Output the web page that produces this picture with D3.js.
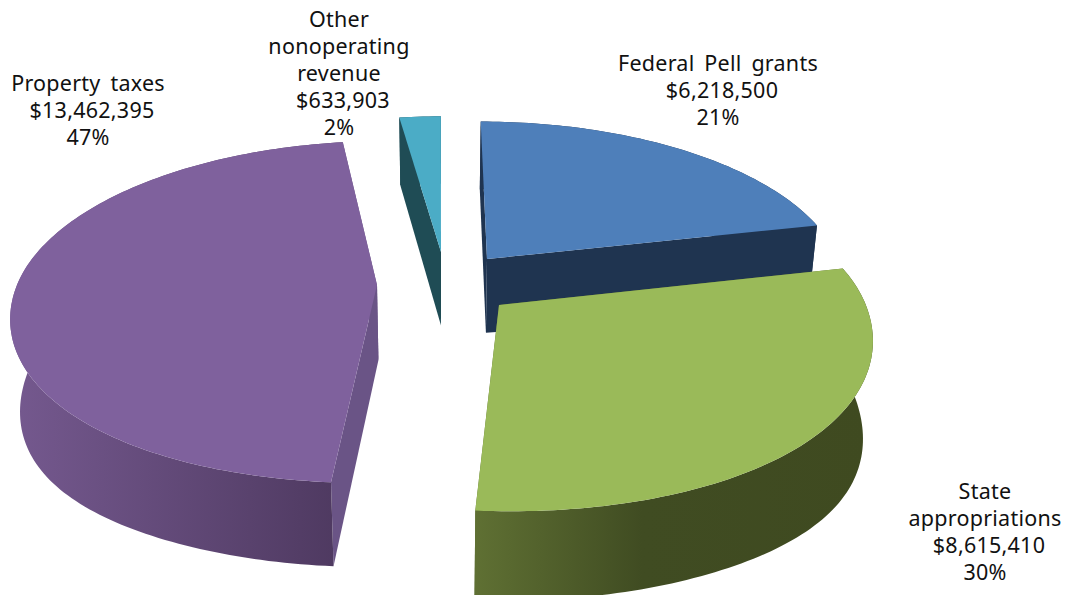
<!DOCTYPE html>
<html>
<head>
<meta charset="utf-8">
<style>
  html, body { margin: 0; padding: 0; background: #fff; overflow: hidden; }
  text { font-family: "Noto Sans", "DejaVu Sans", sans-serif; font-size: 21.5px; word-spacing: 4px; letter-spacing: 0.25px; fill: #111; }
</style>
<script src="https://cdn.jsdelivr.net/npm/d3@7/dist/d3.min.js"></script>
</head>
<body>
<svg id="chart" width="1067" height="595"></svg>
<script>
// Revenue sources, clockwise from twelve o'clock
const categories = ["Federal Pell grants", "State appropriations", "Property taxes", "Other nonoperating revenue"];
const revenue = [6218500, 8615410, 13462395, 633903];
const labelLines = [["Federal Pell grants"], ["State", "appropriations"], ["Property taxes"], ["Other", "nonoperating", "revenue"]];

// Styling per slice
const topColors = ["#4e7fba", "#9aba59", "#7f619d", "#4bacc6"];
const edgeColors = ["#1f3450", "#5c6c32", "#6a5486", "#1f4c55"];
const wallStops = [
  [[0, "#1f3450"], [1, "#1f3450"]],
  [[0, "#5f7033"], [0.42, "#404c22"], [1, "#3f4a20"]],
  [[0, "#75598f"], [1, "#4e3960"]],
  [[0, "#1f4c55"], [1, "#1f4c55"]]
];

// Layout: pixel position of each slice's hub, extra wall height, and each label's centre line
const hubs = [[487, 259], [499, 305], [377, 285], [441, 252]];
const wallExtra = [0, 4, 0, 0];
const labelAnchors = [[718, 63], [985, 491], [88, 83], [339, 19]];
const labelLeading = 27;
const amountShift = 4;

// Camera model for the tilted disc
const cam = { x0: 440, y0: 285, f: 360, g: 166.7, k: 0.158 };
const project = (X, Z) => {
  const w = 1 + cam.k * Z;
  return [cam.x0 + cam.f * X / w, cam.y0 - cam.g * Z / w];
};
const unproject = ([sx, sy]) => {
  const t = cam.y0 - sy;
  const Z = t / (cam.g - cam.k * t);
  return [(sx - cam.x0) * (1 + cam.k * Z) / cam.f, Z];
};
// The base of the extrusion sits lower and slightly narrower than the top face,
// and the wall reads a little taller toward the disc's left and right extremes
const drop = extra => ([x, y]) => [
  cam.x0 + (x - cam.x0) * 0.977,
  y + 75 + extra + 0.045 * (y - cam.y0) + 16 * Math.pow((x - cam.x0) / 430, 4)
];
// The near half of the rim has slightly fuller shoulders than a true circle
const rimRadius = t => Math.cos(t) < 0 ? 1 + 0.01 * Math.pow(Math.sin(2 * t), 2) : 1;

const svg = d3.select("#chart");
const defs = svg.append("defs");
const line = d3.line();
const pie = d3.pie().sort(null).startAngle(0).endAngle(2 * Math.PI);
const arcs = pie(revenue);
const total = d3.sum(revenue);

const slices = arcs.map((a, i) => {
  const [hx, hz] = unproject(hubs[i]);
  const steps = Math.max(6, Math.ceil((a.endAngle - a.startAngle) / 0.02));
  const rim = d3.range(steps + 1).map(s => {
    const t = a.startAngle + (a.endAngle - a.startAngle) * s / steps;
    const r = rimRadius(t);
    return project(hx + r * Math.sin(t), hz + r * Math.cos(t));
  });
  return { i, hub: hubs[i], rim };
});

// Far slices first so nearer ones overlap them
const paintOrder = [3, 0, 2, 1];
paintOrder.forEach(i => {
  const { hub, rim } = slices[i];
  const first = rim[0], last = rim[rim.length - 1];
  const base = drop(wallExtra[i]);
  const g = svg.append("g");

  // Radial faces
  g.append("path").attr("fill", edgeColors[i])
    .attr("d", line([hub, first, base(first), base(hub)]) + "Z");
  g.append("path").attr("fill", edgeColors[i])
    .attr("d", line([hub, last, base(last), base(hub)]) + "Z");

  // Curved outer wall, shaded left to right
  const xs = d3.extent(rim, p => p[0]);
  const gradId = "wall" + i;
  const grad = defs.append("linearGradient").attr("id", gradId)
    .attr("gradientUnits", "userSpaceOnUse")
    .attr("x1", xs[0]).attr("x2", xs[1]).attr("y1", 0).attr("y2", 0);
  wallStops[i].forEach(([o, c]) => grad.append("stop").attr("offset", o).attr("stop-color", c));
  g.append("path").attr("fill", `url(#${gradId})`)
    .attr("d", line(rim.concat(rim.map(base).reverse())) + "Z");

  // Top face
  g.append("path").attr("fill", topColors[i])
    .attr("d", line([hub].concat(rim)) + "Z");
});

// Labels: name, dollar amount, share
const money = d3.format("$,");
categories.forEach((c, i) => {
  const names = labelLines[i];
  const lines = names.concat([money(revenue[i]), Math.round(revenue[i] / total * 100) + "%"]);
  const [lx, ly] = labelAnchors[i];
  svg.append("text")
    .attr("text-anchor", "middle")
    .selectAll("tspan").data(lines).join("tspan")
    .attr("x", (d, k) => lx + (k === names.length ? amountShift : 0))
    .attr("y", (d, k) => ly + k * labelLeading)
    .attr("dy", "0.35em")
    .text(d => d);
});
</script>
</body>
</html>
